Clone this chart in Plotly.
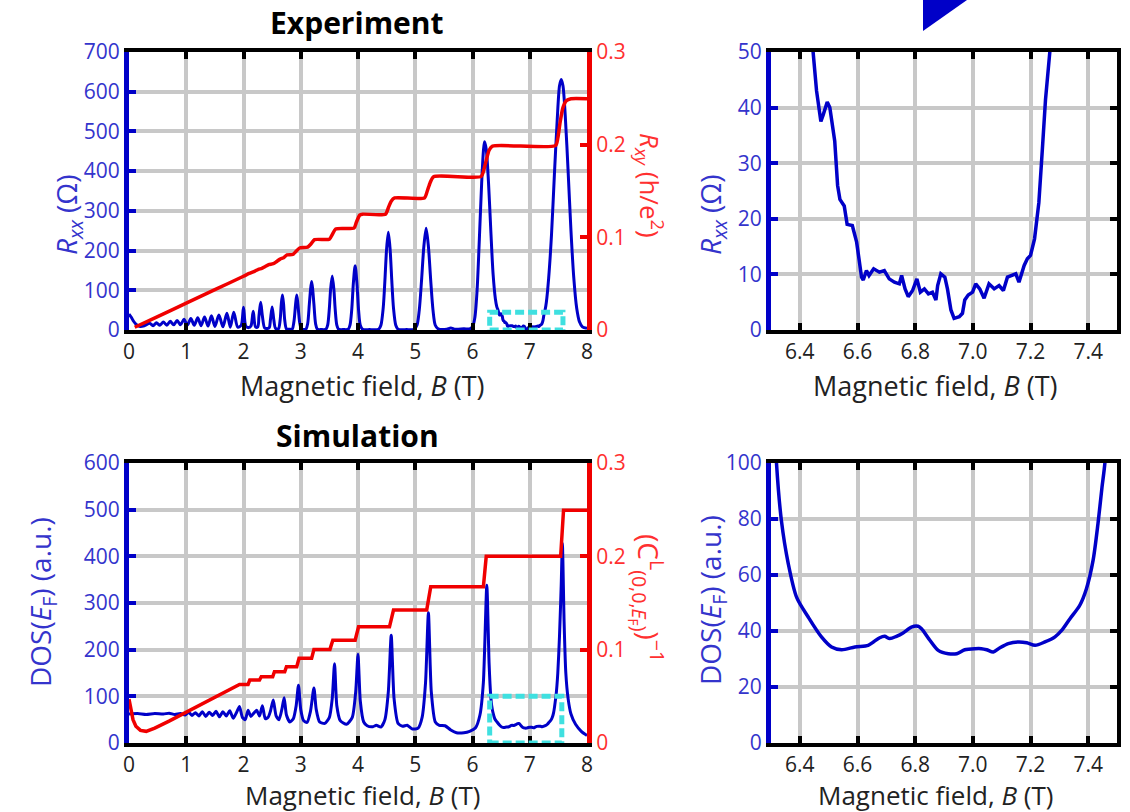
import plotly.graph_objects as go

# ---------------- data ----------------
# Experiment: longitudinal resistance R_xx (Ohm) vs magnetic field B (T)
b_exp = [
    0.00, 0.04, 0.08, 0.12, 0.16, 0.20, 0.25,
    0.30, 0.36, 0.42, 0.48, 0.54, 0.60, 0.66, 0.72, 0.78, 0.84, 0.90, 0.96,
    1.02, 1.08, 1.14, 1.20, 1.26, 1.32, 1.38, 1.44, 1.50, 1.57, 1.64, 1.71,
    1.77, 1.83, 1.90, 1.96, 2.00, 2.04, 2.09, 2.13, 2.17, 2.21, 2.25, 2.27,
    2.30, 2.33, 2.37, 2.42, 2.45, 2.47, 2.50, 2.53, 2.56, 2.61, 2.64, 2.66,
    2.68, 2.70, 2.72, 2.75, 2.80, 2.85, 2.88, 2.91, 2.93, 2.95, 2.98, 3.01,
    3.05, 3.09, 3.12, 3.15, 3.17, 3.19, 3.21, 3.23, 3.26, 3.29, 3.36, 3.44,
    3.47, 3.50, 3.52, 3.55, 3.58, 3.60, 3.63, 3.66, 3.75, 3.83, 3.86, 3.89,
    3.92, 3.95, 3.98, 4.01, 4.04, 4.08, 4.20, 4.36, 4.40, 4.44, 4.47, 4.50,
    4.53, 4.56, 4.59, 4.62, 4.66, 4.70, 4.85, 4.98, 5.03, 5.07, 5.11, 5.15,
    5.19, 5.23, 5.27, 5.31, 5.35, 5.40, 5.55, 5.62, 5.70, 5.85, 5.95, 6.00,
    6.04, 6.08, 6.12, 6.16, 6.19, 6.21, 6.24, 6.28, 6.32, 6.36, 6.40, 6.425,
    6.446, 6.458, 6.473, 6.481, 6.495, 6.504, 6.521, 6.531, 6.539, 6.554,
    6.564, 6.582, 6.597, 6.614, 6.620, 6.631, 6.640, 6.656, 6.676, 6.693,
    6.710, 6.728, 6.745, 6.753, 6.765, 6.776, 6.791, 6.806, 6.818, 6.832,
    6.846, 6.860, 6.872, 6.878, 6.889, 6.903, 6.912, 6.924, 6.935, 6.953,
    6.964, 6.972, 6.984, 6.999, 7.010, 7.024, 7.039, 7.056, 7.074, 7.091,
    7.106, 7.120, 7.137, 7.149, 7.160, 7.178, 7.189, 7.200, 7.214, 7.229,
    7.241, 7.252, 7.267, 7.29, 7.33, 7.38, 7.43, 7.48, 7.52, 7.55, 7.58,
    7.62, 7.67, 7.72, 7.77, 7.82, 7.87, 7.92, 8.00,
]
rxx_exp = [
    40, 32, 22, 15, 11, 9, 10,
    13, 17, 11, 18, 12, 20, 12, 22, 13, 24, 13, 27,
    12, 29, 12, 31, 11, 33, 10, 36, 9, 38, 8, 42,
    7, 45, 7, 12, 57, 10, 6, 10, 47, 8, 8, 35,
    70, 35, 5, 4, 6, 25, 58, 25, 4, 3, 25, 65,
    88, 65, 25, 3, 2, 2, 20, 65, 88, 65, 20, 2,
    1, 2, 15, 65, 100, 122, 100, 65, 15, 2, 1, 2,
    12, 55, 100, 136, 100, 55, 12, 2, 1, 2, 12, 50,
    120, 162, 120, 50, 12, 2, 1, 2, 12, 55, 125, 205,
    246, 205, 125, 55, 12, 2, 1, 2, 12, 50, 125, 210,
    256, 210, 125, 50, 12, 3, 2, 5, 2, 3, 3, 8,
    30, 100, 230, 370, 450, 474, 455, 370, 250, 140, 78, 58,
    50, 43, 37.5, 38.7, 41, 40, 34, 26, 23.5, 22.3,
    19, 18.8, 15.8, 9.5, 9, 10.7, 9.8, 11, 10.4, 10.7,
    9.2, 8.6, 8.3, 9.8, 7.4, 6, 7.1, 9.2, 6.8, 7.4,
    6.5, 6.8, 5.4, 8, 10.1, 9.5, 7.4, 3.6, 2.1, 2.4,
    3, 5.4, 6.3, 6.8, 8.3, 7.4, 5.7, 8.3, 7.4, 8,
    7.1, 9.5, 9.8, 10.1, 8.6, 11.6, 12.8, 13.4, 16.4, 22.9,
    32.4, 41.4, 50, 70, 130, 240, 390, 530, 615, 631, 615,
    540, 400, 250, 130, 55, 20, 8, 4,
]

# Experiment: Hall resistance R_xy (h/e^2)
b_hall = [
    0.10, 0.50, 1.00, 1.50, 2.00, 2.10, 2.20, 2.26, 2.32, 2.38, 2.44, 2.52,
    2.58, 2.64, 2.70, 2.76, 2.86, 2.92, 2.98, 3.12, 3.18, 3.24, 3.50, 3.55,
    3.61, 3.93, 3.97, 4.03, 4.08, 4.48, 4.53, 4.58, 4.64, 5.16, 5.21, 5.26,
    5.32, 6.15, 6.19, 6.24, 6.29, 6.35, 7.45, 7.49, 7.53, 7.58, 7.64, 7.72,
    8.00,
]
rxy_exp = [
    0.003, 0.0145, 0.029, 0.0435, 0.058, 0.061, 0.0635, 0.0655, 0.0665,
    0.0685, 0.0705, 0.0715, 0.074, 0.0765, 0.078, 0.081, 0.0815, 0.085,
    0.0885, 0.0895, 0.093, 0.0975, 0.098, 0.103, 0.109, 0.110, 0.116, 0.124,
    0.125, 0.125, 0.132, 0.139, 0.1425, 0.1425, 0.150, 0.159, 0.1655, 0.1655,
    0.171, 0.183, 0.194, 0.1985, 0.199, 0.207, 0.224, 0.240, 0.2475, 0.2495,
    0.2495,
]

# Simulation: density of states at the Fermi level (a.u.)
b_sim = [
    0.00, 0.15, 0.30, 0.45, 0.60, 0.70, 0.80, 0.90, 0.98, 1.04, 1.10, 1.16,
    1.22, 1.28, 1.34, 1.40, 1.46, 1.52, 1.58, 1.64, 1.70, 1.76, 1.82, 1.88,
    1.93, 1.98, 2.03, 2.08, 2.13, 2.18, 2.23, 2.28, 2.33, 2.38, 2.43, 2.47,
    2.52, 2.57, 2.62, 2.67, 2.71, 2.75, 2.81, 2.87, 2.92, 2.96, 3.00, 3.05,
    3.11, 3.17, 3.23, 3.27, 3.33, 3.42, 3.50, 3.55, 3.59, 3.63, 3.69, 3.80,
    3.90, 3.96, 4.00, 4.04, 4.10, 4.16, 4.26, 4.32, 4.40, 4.47, 4.53, 4.58,
    4.63, 4.70, 4.78, 4.86, 4.95, 5.05, 5.12, 5.18, 5.23, 5.28, 5.35, 5.42,
    5.52, 5.62, 5.72, 5.85, 5.95, 6.05, 6.13, 6.19, 6.25, 6.29,
    6.319, 6.336, 6.360, 6.389, 6.429, 6.475, 6.510, 6.545, 6.591, 6.637,
    6.654, 6.677, 6.694, 6.712, 6.735, 6.758, 6.787, 6.810, 6.822, 6.851,
    6.880, 6.915, 6.944, 6.972, 7.007, 7.030, 7.048, 7.071, 7.094, 7.123,
    7.158, 7.187, 7.216, 7.250, 7.285, 7.308, 7.337, 7.371, 7.394, 7.417,
    7.434, 7.448, 7.458, 7.49, 7.52, 7.55, 7.57, 7.60, 7.63, 7.67, 7.72,
    7.80, 7.90, 8.00,
]
dos_sim = [
    62, 63, 61, 63, 62, 64, 61, 63, 60, 66, 59, 65,
    58, 67, 57, 66, 59, 68, 56, 67, 58, 69, 53, 66,
    78, 55, 50, 70, 57, 64, 70, 58, 80, 52, 55, 68,
    92, 58, 50, 72, 97, 60, 45, 52, 80, 124, 72, 48,
    44, 68, 118, 72, 45, 42, 55, 95, 170, 80, 48, 40,
    55, 110, 190, 90, 45, 37, 35, 38, 34, 50, 110, 231,
    95, 42, 36, 38, 30, 32, 55, 130, 279, 110, 45, 38,
    37, 28, 22, 22, 25, 32, 60, 130, 338, 170,
    100, 79.5, 64, 52, 45, 37.9, 34.3, 33.3, 34.3, 34.9,
    36, 37.6, 38.1, 37.3, 38.1, 39.3, 41.4, 41.7, 40.8, 36.7,
    33.1, 31.9, 31.9, 33.3, 33.7, 33.7, 33.3, 32.5, 34, 35.5,
    36.1, 35.8, 34.9, 36.1, 37.9, 40.2, 44.4, 49.2, 55.1, 65.2,
    78.3, 91.4, 100, 150, 230, 340, 428, 260, 150, 95, 62,
    40, 25, 16,
]

# Simulation: inverse Chern number (C^L)^-1
b_chern = [
    0.00, 0.03, 0.07, 0.12, 0.20, 0.30, 0.45, 0.70, 1.00, 1.50, 1.90, 1.93,
    2.08, 2.11, 2.28, 2.31, 2.51, 2.54, 2.72, 2.75, 2.93, 2.97, 3.19, 3.23,
    3.51, 3.56, 3.95, 4.01, 4.55, 4.62, 5.20, 5.27, 6.19, 6.24, 7.54, 7.59,
    8.00,
]
chern_inv = [
    0.047, 0.035, 0.025, 0.018, 0.0135, 0.0125, 0.016, 0.0235, 0.033, 0.049,
    0.0615, 0.0628, 0.0628, 0.0675, 0.0675, 0.071, 0.071, 0.0763, 0.0763,
    0.0817, 0.0817, 0.0907, 0.0907, 0.1003, 0.1003, 0.1102, 0.1102, 0.1245,
    0.1245, 0.1424, 0.1424, 0.1673, 0.1673, 0.2, 0.2, 0.2494, 0.2494,
]

# ---------------- styling ----------------
W, H = 1130, 812
FONT = "Open Sans, Noto Sans, sans-serif"
BLUE = "#0000c8"
BLUE_TXT = "#3434cc"
RED = "#f00000"
RED_TXT = "#ff3030"
GRID = "#c8c8c8"
CYAN = "#3fe0e0"
INK = "#222222"
TICK_SIZE = 21
XTITLE_SIZE = 27
YTITLE_SIZE = 28

def fx(px):
    return px / W

def fy(py):
    return 1 - py / H

dom_left = [fx(129), fx(587)]
dom_right = [fx(771), fx(1117)]
dom_top = [fy(330), fy(52)]
dom_bot = [fy(743), fy(463)]


def xaxis(domain, anchor, rng, tick0, dtick, fmt=None):
    d = dict(domain=domain, anchor=anchor, range=rng, tick0=tick0, dtick=dtick,
             showgrid=True, gridcolor=GRID, gridwidth=4, zeroline=False,
             showline=True, linecolor="black", linewidth=4, mirror="ticks",
             ticks="inside", ticklen=7, tickwidth=4, tickcolor="black",
             automargin=False,
             tickfont=dict(family=FONT, size=TICK_SIZE, color=INK))
    if fmt:
        d["tickformat"] = fmt
    return d


def yleft(domain, anchor, rng, dtick):
    return dict(domain=domain, anchor=anchor, range=rng, tick0=0, dtick=dtick,
                showgrid=True, gridcolor=GRID, gridwidth=4, zeroline=False,
                showline=True, linecolor=BLUE, linewidth=5,
                ticks="inside", ticklen=7, tickwidth=4, tickcolor=BLUE,
                automargin=False,
                tickfont=dict(family=FONT, size=TICK_SIZE, color=BLUE_TXT))


def yright(over, anchor, rng, dtick, color, labels, label_color):
    return dict(overlaying=over, anchor=anchor, side="right", range=rng,
                tick0=0, dtick=dtick, showgrid=False, zeroline=False,
                showline=True, linecolor=color, linewidth=5 if labels else 4,
                ticks="inside", ticklen=7, tickwidth=4, tickcolor=color,
                showticklabels=labels, automargin=False,
                tickfont=dict(family=FONT, size=TICK_SIZE, color=label_color))


fig = go.Figure()

# top-left: experiment overview
fig.add_trace(go.Scatter(x=b_exp, y=rxx_exp, xaxis="x", yaxis="y", mode="lines",
                         line=dict(color=BLUE, width=3, shape="spline", smoothing=0.8)))
fig.add_trace(go.Scatter(x=b_hall, y=rxy_exp, xaxis="x", yaxis="y2", mode="lines",
                         line=dict(color=RED, width=3.5, shape="spline", smoothing=0.6)))
# top-right: experiment, close-up of the nu = 5 minimum
fig.add_trace(go.Scatter(x=b_exp, y=rxx_exp, xaxis="x2", yaxis="y3", mode="lines",
                         line=dict(color=BLUE, width=3.5)))
fig.add_trace(go.Scatter(x=[], y=[], xaxis="x2", yaxis="y4", mode="lines"))
# bottom-left: simulation overview
fig.add_trace(go.Scatter(x=b_sim, y=dos_sim, xaxis="x3", yaxis="y5", mode="lines",
                         line=dict(color=BLUE, width=3, shape="spline", smoothing=0.6)))
fig.add_trace(go.Scatter(x=b_chern, y=chern_inv, xaxis="x3", yaxis="y6", mode="lines",
                         line=dict(color=RED, width=3.5)))
# bottom-right: simulation close-up
fig.add_trace(go.Scatter(x=b_sim, y=dos_sim, xaxis="x4", yaxis="y7", mode="lines",
                         line=dict(color=BLUE, width=3.5, shape="spline", smoothing=0.8)))
fig.add_trace(go.Scatter(x=[], y=[], xaxis="x4", yaxis="y8", mode="lines"))

fig.update_layout(
    width=W, height=H,
    margin=dict(l=0, r=0, t=0, b=0, pad=0, autoexpand=False),
    paper_bgcolor="white", plot_bgcolor="white", showlegend=False,
    font=dict(family=FONT, color=INK),
    xaxis=xaxis(dom_left, "y", [0, 8], 0, 1),
    yaxis=yleft(dom_top, "x", [0, 700], 100),
    yaxis2=yright("y", "x", [0, 0.3], 0.1, RED, True, RED_TXT),
    xaxis2=xaxis(dom_right, "y3", [6.3, 7.5], 6.4, 0.2, ".1f"),
    yaxis3=yleft(dom_top, "x2", [0, 50], 10),
    yaxis4=yright("y3", "x2", [0, 50], 10, "black", False, INK),
    xaxis3=xaxis(dom_left, "y5", [0, 8], 0, 1),
    yaxis5=yleft(dom_bot, "x3", [0, 600], 100),
    yaxis6=yright("y5", "x3", [0, 0.3], 0.1, RED, True, RED_TXT),
    xaxis4=xaxis(dom_right, "y7", [6.3, 7.5], 6.4, 0.2, ".1f"),
    yaxis7=yleft(dom_bot, "x4", [0, 100], 20),
    yaxis8=yright("y7", "x4", [0, 100], 20, "black", False, INK),
)

# dashed boxes marking the close-up windows
fig.add_shape(type="rect", xref="x", yref="y", x0=6.3, x1=7.58, y0=0, y1=45,
              line=dict(color=CYAN, width=5, dash="9px,4px"), layer="above")
fig.add_shape(type="rect", xref="x3", yref="y5", x0=6.3, x1=7.56, y0=0, y1=100,
              line=dict(color=CYAN, width=5, dash="9px,4px"), layer="above")

# arrow tip entering from the top edge
fig.add_shape(type="path", xref="paper", yref="paper",
              path=f"M {fx(923)},{fy(0)} L {fx(967)},{fy(0)} L {fx(923)},{fy(31)} Z",
              fillcolor=BLUE, line=dict(width=0))


def label(text, x, y, color=INK, size=XTITLE_SIZE, angle=0):
    fig.add_annotation(text=text, xref="paper", yref="paper", x=fx(x), y=fy(y),
                       xanchor="center", yanchor="middle", showarrow=False,
                       textangle=angle, font=dict(family=FONT, size=size, color=color))


label("<b>Experiment</b>", 357, 22, "black", 30)
label("<b>Simulation</b>", 357, 435, "black", 30)

xt = "Magnetic field, <i>B</i> (T)"
label(xt, 362, 385)
label(xt, 935, 385)
label(xt, 362, 794.5, size=26)
label(xt, 935, 794.5, size=26)

rxx_t = "<i>R</i><sub><i>xx</i></sub> (Ω)"
dos_t = "DOS(<i>E</i><sub>F</sub>) (a.u.)"
label(rxx_t, 68, 215, BLUE_TXT, YTITLE_SIZE, angle=-90)
label(rxx_t, 712, 215, BLUE_TXT, YTITLE_SIZE, angle=-90)
label(dos_t, 42, 602, BLUE_TXT, YTITLE_SIZE, angle=-90)
label(dos_t, 712, 600, BLUE_TXT, YTITLE_SIZE, angle=-90)

label("<i>R</i><sub><i>xy</i></sub> (h/e<sup>2</sup>)", 650, 185, RED_TXT, 26, angle=90)
label("(C<sup>L</sup><sub>(0,0,<i>E</i><sub>F</sub>)</sub>)<sup>−1</sup>", 648, 598,
      RED_TXT, 28, angle=90)

fig.write_html("out.html")
